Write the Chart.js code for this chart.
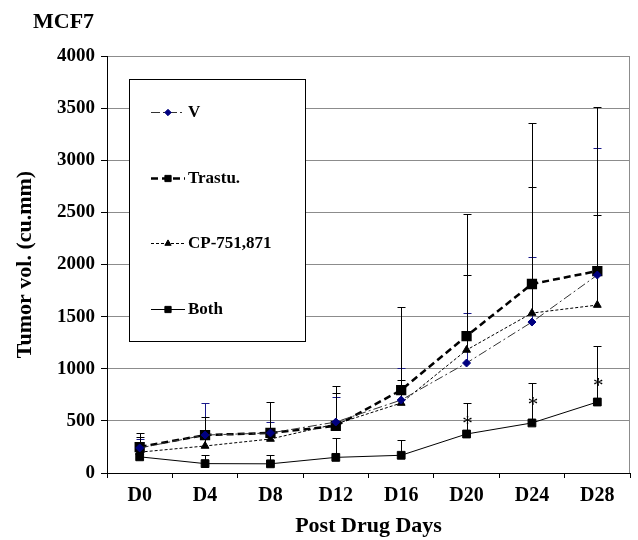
<!DOCTYPE html>
<html>
<head>
<meta charset="utf-8">
<script src="https://cdn.jsdelivr.net/npm/chart.js"></script>
<style>
  body { margin: 0; background: #fff; }
</style>
</head>
<body>
<canvas id="tumor-chart" width="638" height="540"></canvas>
<script>
var days = ['D0', 'D4', 'D8', 'D12', 'D16', 'D20', 'D24', 'D28'];
var yTicks = [0, 500, 1000, 1500, 2000, 2500, 3000, 3500, 4000];

// mean tumour volume per group, and the plus error bar
var vehicle    = [240, 364, 384, 489, 700, 1055, 1448, 1899];
var vehicleErr = [86, 307, 105, 240, 307, 479, 623, 1218];
var trastu     = [249, 364, 384, 451, 796, 1314, 1813, 1937];
var trastuErr  = [135, 173, 297, 383, 796, 1170, 1544, 1573];
var cp751      = [200, 259, 326, 470, 671, 1180, 1534, 1611];
var cp751Err   = [145, 81, 74, 297, 221, 719, 1209, 863];
var both       = [155, 90, 88, 150, 170, 374, 480, 681];
var bothErr    = [45, 83, 85, 186, 146, 297, 383, 537];
// where the significance asterisks sit (tumour vol.)
var bothStars  = [null, null, null, null, null, 510, 690, 875];

var serif = "'Liberation Serif', 'Times New Roman', serif";

var errorBars = {
    id: 'errorBars',
    beforeDatasetsDraw: function (chart) {
        var ctx = chart.ctx, y = chart.scales.y, a = chart.chartArea;
        // right frame line
        ctx.save();
        ctx.strokeStyle = '#8c8c8c';
        ctx.lineWidth = 1;
        ctx.beginPath();
        ctx.moveTo(Math.round(a.right) - 0.5, a.top);
        ctx.lineTo(Math.round(a.right) - 0.5, a.bottom);
        ctx.stroke();
        ctx.restore();

        chart.data.datasets.forEach(function (ds, i) {
            var meta = chart.getDatasetMeta(i);
            ctx.save();
            ctx.strokeStyle = ds.errColor;
            ctx.lineWidth = 1;
            meta.data.forEach(function (pt, j) {
                var x = Math.round(pt.x) + 0.5;
                var top = Math.round(y.getPixelForValue(ds.data[j] + ds.errPlus[j])) + 0.5;
                ctx.beginPath();
                ctx.moveTo(x, pt.y);
                ctx.lineTo(x, top);
                ctx.moveTo(x - 4, top);
                ctx.lineTo(x + 4, top);
                ctx.stroke();
            });
            ctx.restore();
        });
    },
    afterDatasetsDraw: function (chart) {
        var ctx = chart.ctx, x = chart.scales.x, y = chart.scales.y;
        ctx.save();
        ctx.fillStyle = '#000';
        ctx.font = '21px ' + serif;
        ctx.textAlign = 'center';
        ctx.textBaseline = 'alphabetic';
        bothStars.forEach(function (v, j) {
            if (v === null) return;
            ctx.fillText('*', x.getPixelForValue(j) + 1, y.getPixelForValue(v) + 10);
        });
        ctx.restore();
    }
};

var boxLegend = {
    id: 'boxLegend',
    afterDraw: function (chart) {
        var ctx = chart.ctx, a = chart.chartArea;
        var bx = a.left + 22, by = a.top + 23, bw = 176, bh = 262;
        ctx.save();
        ctx.fillStyle = '#fff';
        ctx.fillRect(bx, by, bw, bh);
        ctx.strokeStyle = '#000';
        ctx.lineWidth = 1;
        ctx.strokeRect(bx + 0.5, by + 0.5, bw, bh);

        chart.data.datasets.forEach(function (ds, i) {
            var cy = Math.round(by + 33 + i * 65.7) + 0.5;
            ctx.setLineDash(ds.borderDash || []);
            ctx.lineWidth = ds.borderWidth;
            ctx.strokeStyle = ds.borderColor;
            ctx.beginPath();
            ctx.moveTo(bx + 22, cy);
            ctx.lineTo(bx + 56, cy);
            ctx.stroke();
            ctx.setLineDash([]);
            ctx.fillStyle = ds.pointBackgroundColor;
            ctx.strokeStyle = ds.pointBorderColor;
            ctx.lineWidth = 1;
            Chart.helpers.drawPoint(ctx, {
                pointStyle: ds.pointStyle,
                radius: ds.pointRadius * 0.8,
                borderWidth: 1,
                rotation: 0
            }, bx + 39, cy);
            ctx.fillStyle = '#000';
            ctx.font = 'bold 17px ' + serif;
            ctx.textAlign = 'left';
            ctx.textBaseline = 'middle';
            ctx.fillText(ds.label, bx + 59, cy);
        });

        // panel label
        ctx.font = 'bold 22px ' + serif;
        ctx.textBaseline = 'alphabetic';
        ctx.fillText('MCF7', 33, 28);
        ctx.restore();
    }
};

var ctx = document.getElementById('tumor-chart').getContext('2d');
var chart = new Chart(ctx, {
    type: 'line',
    data: {
        labels: days,
        datasets: [
            {
                label: 'V',
                data: vehicle,
                errPlus: vehicleErr,
                errColor: '#1a1a8c',
                borderColor: '#333',
                borderWidth: 1,
                borderDash: [9, 3, 2, 3],
                pointStyle: 'rectRot',
                pointRadius: 4,
                pointBackgroundColor: '#000080',
                pointBorderColor: '#000080'
            },
            {
                label: 'Trastu.',
                data: trastu,
                errPlus: trastuErr,
                errColor: '#000',
                borderColor: '#000',
                borderWidth: 2.5,
                borderDash: [7, 4],
                pointStyle: 'rect',
                pointRadius: 5.5,
                pointBackgroundColor: '#000',
                pointBorderColor: '#000'
            },
            {
                label: 'CP-751,871',
                data: cp751,
                errPlus: cp751Err,
                errColor: '#000',
                borderColor: '#000',
                borderWidth: 1,
                borderDash: [3, 2],
                pointStyle: 'triangle',
                pointRadius: 4.5,
                pointBackgroundColor: '#000',
                pointBorderColor: '#000'
            },
            {
                label: 'Both',
                data: both,
                errPlus: bothErr,
                errColor: '#000',
                borderColor: '#000',
                borderWidth: 1,
                pointStyle: 'rect',
                pointRadius: 5.5,
                pointBackgroundColor: '#000',
                pointBorderColor: '#000'
            }
        ]
    },
    options: {
        responsive: false,
        animation: false,
        devicePixelRatio: 1,
        layout: { padding: { top: 56, right: 5, left: 0, bottom: 0 } },
        elements: { line: { tension: 0 } },
        plugins: {
            legend: { display: false },
            tooltip: { enabled: false }
        },
        scales: {
            x: {
                offset: true,
                grid: {
                    offset: true,
                    drawOnChartArea: false,
                    drawTicks: true,
                    tickLength: 5,
                    tickColor: '#000'
                },
                border: { color: '#000', width: 1 },
                ticks: {
                    color: '#000',
                    padding: 6,
                    maxRotation: 0,
                    font: { family: serif, size: 20, weight: 'bold' }
                },
                title: {
                    display: true,
                    text: 'Post Drug Days',
                    color: '#000',
                    padding: { top: 0, bottom: 0 },
                    font: { family: serif, size: 22, weight: 'bold' }
                },
                afterFit: function (s) { s.height = 67; }
            },
            y: {
                min: 0,
                max: 4000,
                afterBuildTicks: function (s) {
                    s.ticks = yTicks.map(function (v) { return { value: v }; });
                },
                grid: {
                    color: '#8c8c8c',
                    lineWidth: 1,
                    tickLength: 6,
                    tickColor: '#000'
                },
                border: { color: '#000', width: 1 },
                ticks: {
                    color: '#000',
                    padding: 6,
                    callback: function (v) { return String(v); },
                    font: { family: serif, size: 19, weight: 'bold' }
                },
                title: {
                    display: true,
                    text: 'Tumor vol. (cu.mm)',
                    color: '#000',
                    padding: { top: 12, bottom: 0 },
                    font: { family: serif, size: 22, weight: 'bold' }
                },
                afterFit: function (s) { s.width = 107; }
            }
        }
    },
    plugins: [errorBars, boxLegend]
});
</script>
</body>
</html>
